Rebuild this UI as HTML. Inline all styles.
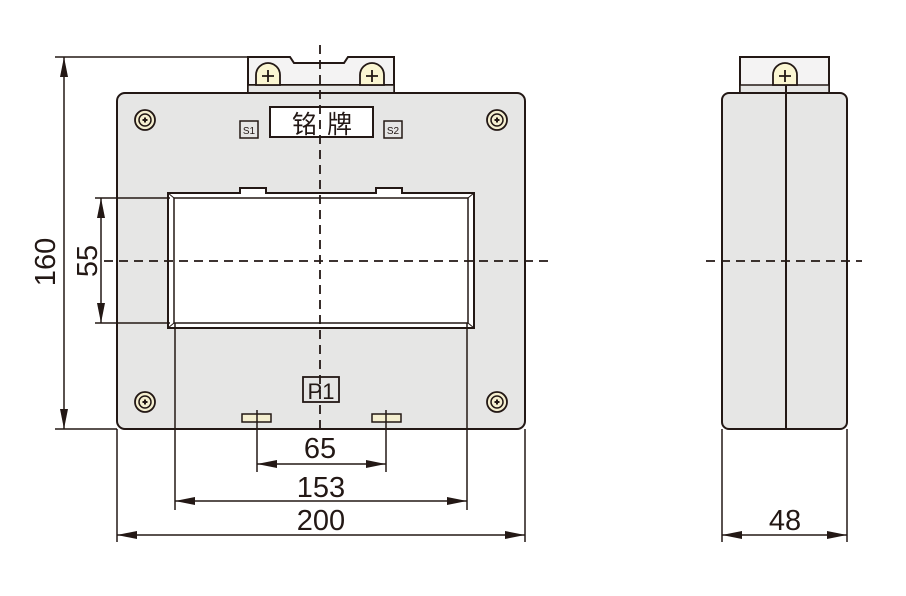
<!DOCTYPE html>
<html><head><meta charset="utf-8"><style>html,body{margin:0;padding:0;background:#fff}svg{display:block}</style></head>
<body>
<svg width="906" height="596" viewBox="0 0 906 596" xmlns="http://www.w3.org/2000/svg" font-family="Liberation Sans, sans-serif">
<defs>
<marker id="a" viewBox="0 0 20 8" refX="20" refY="4" markerWidth="20" markerHeight="8" markerUnits="userSpaceOnUse" orient="auto-start-reverse"><path d="M0,0 L20,4 L0,8 z" fill="#231815"/></marker>
<g id="scr"><circle r="10" fill="#f5efd0" stroke="#231815" stroke-width="1.8"/><circle r="6" fill="none" stroke="#231815" stroke-width="1.5"/><path d="M-2.5,0h5M0,-2.5v5" stroke="#231815" stroke-width="2"/></g>
<g id="pl"><path d="M-12,22 v-10 a12,12 0 0 1 24,0 v10 z" fill="#fbf6d2" stroke="#231815" stroke-width="1.8"/><path d="M-6,13h12M0,7v12" stroke="#231815" stroke-width="1.8"/></g>
</defs>
<g stroke="#231815" fill="none">
<path d="M248,57 H290 L294,63 H344 L348,57 H394 V93 H248 Z" fill="#f4f3f3" stroke-width="2"/>
<line x1="248" y1="85" x2="394" y2="85" stroke-width="2"/>
<rect x="248" y="85" width="146" height="8" fill="#e6e6e5" stroke-width="1.5"/>
<rect x="117" y="93" width="408" height="336" rx="8" fill="#e6e6e5" stroke-width="2"/>
<path d="M168,193 H240 V188 H266 V193 H376 V188 H402 V193 H474 V328 H168 Z" fill="#fff" stroke-width="2"/>
<rect x="174" y="198" width="294" height="125" stroke-width="1.5"/>
<line x1="168" y1="193" x2="174" y2="198" stroke-width="1"/><line x1="474" y1="193" x2="468" y2="198" stroke-width="1"/>
<line x1="168" y1="328" x2="174" y2="323" stroke-width="1"/><line x1="474" y1="328" x2="468" y2="323" stroke-width="1"/>
<rect x="270" y="107" width="103" height="30" fill="#fff" stroke-width="2"/>
<rect x="240" y="121" width="18" height="17" fill="#e6e6e5" stroke-width="1.5"/>
<rect x="384" y="121" width="18" height="17" fill="#e6e6e5" stroke-width="1.5"/>
<rect x="303" y="377" width="36" height="25" stroke-width="1.8"/>
<rect x="242" y="414" width="29" height="8" fill="#f5efd0" stroke-width="1.5"/>
<rect x="372" y="414" width="29" height="8" fill="#f5efd0" stroke-width="1.5"/>
<rect x="740" y="57" width="89" height="36" fill="#f4f3f3" stroke-width="2"/>
<rect x="740" y="85" width="89" height="8" fill="#e6e6e5" stroke-width="1.5"/>
<rect x="722" y="93" width="125" height="336" rx="7" fill="#e6e6e5" stroke-width="2"/>
<line x1="786" y1="85" x2="786" y2="429" stroke-width="2"/>
<g stroke-width="1.5">
<line x1="55" y1="57" x2="248" y2="57"/><line x1="55" y1="429" x2="117" y2="429"/>
<line x1="64" y1="57" x2="64" y2="429" marker-start="url(#a)" marker-end="url(#a)"/>
<line x1="95" y1="198" x2="170" y2="198"/><line x1="95" y1="323" x2="170" y2="323"/>
<line x1="101" y1="198" x2="101" y2="323" marker-start="url(#a)" marker-end="url(#a)"/>
<line x1="117" y1="429" x2="117" y2="542"/><line x1="525" y1="429" x2="525" y2="542"/>
<line x1="175" y1="323" x2="175" y2="510"/><line x1="467" y1="323" x2="467" y2="510"/>
<line x1="257" y1="410" x2="257" y2="472"/><line x1="386" y1="410" x2="386" y2="472"/>
<line x1="722" y1="429" x2="722" y2="542"/><line x1="847" y1="429" x2="847" y2="542"/>
<line x1="257" y1="464" x2="386" y2="464" marker-start="url(#a)" marker-end="url(#a)"/>
<line x1="175" y1="501" x2="467" y2="501" marker-start="url(#a)" marker-end="url(#a)"/>
<line x1="117" y1="535" x2="525" y2="535" marker-start="url(#a)" marker-end="url(#a)"/>
<line x1="722" y1="535" x2="847" y2="535" marker-start="url(#a)" marker-end="url(#a)"/>
</g>
<g stroke-width="1.8" stroke-dasharray="9,6">
<line x1="320" y1="45" x2="320" y2="432"/>
<line x1="104" y1="261" x2="552" y2="261"/>
<line x1="706" y1="261" x2="862" y2="261"/>
</g>
</g>
<use href="#pl" x="268" y="63"/><use href="#pl" x="372" y="63"/><use href="#pl" x="785" y="63"/>
<use href="#scr" x="145" y="120"/><use href="#scr" x="497" y="120"/><use href="#scr" x="145" y="402"/><use href="#scr" x="497" y="402"/>
<g fill="#231815">
<text x="292" y="133" font-size="25" font-family="Liberation Sans, Noto Sans CJK SC, sans-serif">铭</text>
<text x="327" y="133" font-size="25" font-family="Liberation Sans, Noto Sans CJK SC, sans-serif">牌</text>
<text x="249" y="134" font-size="10" text-anchor="middle">S1</text>
<text x="393" y="134" font-size="10" text-anchor="middle">S2</text>
<text x="321" y="399" font-size="22" text-anchor="middle">P1</text>
<text x="320" y="458" font-size="29" text-anchor="middle">65</text>
<text x="321" y="497" font-size="29" text-anchor="middle">153</text>
<text x="321" y="530" font-size="29" text-anchor="middle">200</text>
<text x="785" y="530" font-size="29" text-anchor="middle">48</text>
<text transform="translate(55,262) rotate(-90)" font-size="29" text-anchor="middle">160</text>
<text transform="translate(97,261) rotate(-90)" font-size="29" text-anchor="middle">55</text>
</g>
</svg>
</body></html>
